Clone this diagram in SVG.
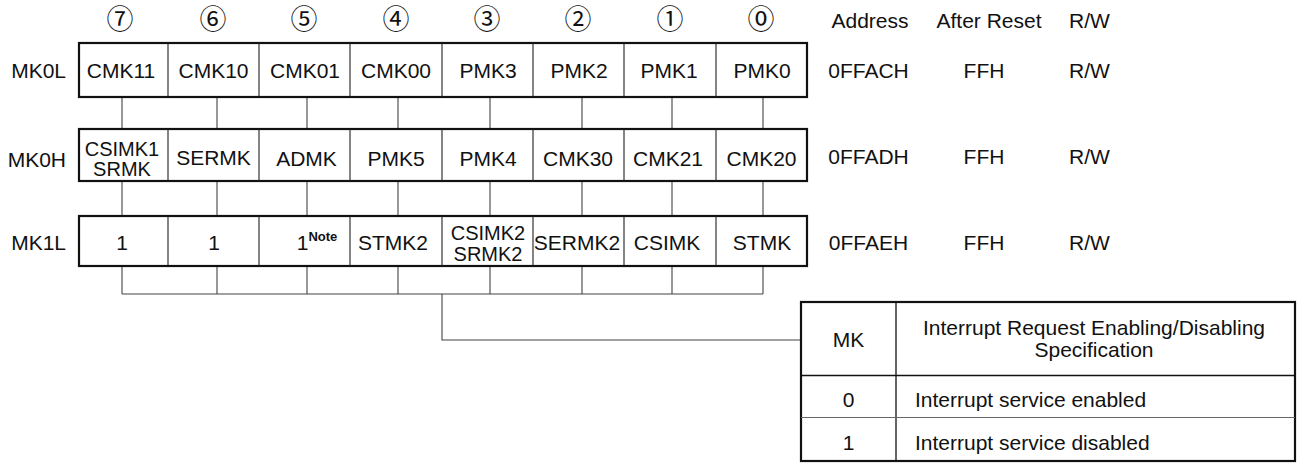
<svg xmlns="http://www.w3.org/2000/svg" width="1297" height="464" viewBox="0 0 1297 464">
<style>
text { font-family: "Liberation Sans", Arial, sans-serif; font-size: 21px; fill: #111; }
.c { text-anchor: middle; }
.e { text-anchor: end; }
.two { font-size: 20px; }
.box { fill: #fff; stroke: #111; stroke-width: 2.2; }
.div { stroke: #222; stroke-width: 1.1; }
.wire { fill: none; stroke: #444; stroke-width: 1.1; }
.circ { font-family: "Noto Sans CJK JP", "DejaVu Sans", sans-serif; font-size: 27px; text-anchor: middle; }
.note { font-size: 13px; font-weight: bold; }
.tb { fill: #fff; stroke: #111; stroke-width: 2.2; }
.tl { stroke: #111; stroke-width: 1.3; }
.tl2 { stroke: #666; stroke-width: 1.1; }
</style>
<rect width="1297" height="464" fill="#fff"/>

<g id="bit-numbers">
<text class="circ" x="120" y="28.6">⑦</text>
<text class="circ" x="213" y="28.6">⑥</text>
<text class="circ" x="304" y="28.6">⑤</text>
<text class="circ" x="396" y="28.6">④</text>
<text class="circ" x="487" y="28.6">③</text>
<text class="circ" x="578" y="28.6">②</text>
<text class="circ" x="670" y="28.6">①</text>
<text class="circ" x="761" y="28.6">⓪</text>
</g>

<g id="column-headers">
<text class="c" x="870" y="28">Address</text>
<text class="c" x="989" y="28">After Reset</text>
<text class="c" x="1089.5" y="28">R/W</text>
</g>

<g id="connectors">
<path class="wire" d="M122 97V129M217 97V129M307 97V129M398 97V129M490 97V129M582 97V129M672 97V129M763 97V129"/>
<path class="wire" d="M122 181V216M217 181V216M307 181V216M398 181V216M490 181V216M582 181V216M672 181V216M763 181V216"/>
<path class="wire" d="M122 266V294M217 266V294M307 266V294M398 266V294M490 266V294M582 266V294M672 266V294M763 266V294M122 294H763"/>
<path class="wire" d="M442 294V340H801"/>
</g>

<g id="MK0L">
<text class="e" x="66" y="77.5">MK0L</text>
<rect class="box" x="79" y="43" width="728" height="54"/>
<path class="div" d="M168 43V97M259 43V97M350 43V97M442 43V97M533 43V97M624 43V97M716 43V97"/>
<text class="c" x="121" y="77.5">CMK11</text>
<text class="c" x="213.5" y="77.5">CMK10</text>
<text class="c" x="305" y="77.5">CMK01</text>
<text class="c" x="396" y="77.5">CMK00</text>
<text class="c" x="488" y="77.5">PMK3</text>
<text class="c" x="579" y="77.5">PMK2</text>
<text class="c" x="669" y="77.5">PMK1</text>
<text class="c" x="762" y="77.5">PMK0</text>
<text class="c" x="868.5" y="78">0FFACH</text>
<text class="c" x="984" y="78">FFH</text>
<text class="c" x="1089.5" y="78">R/W</text>
</g>

<g id="MK0H">
<text class="e" x="66" y="167">MK0H</text>
<rect class="box" x="79" y="129" width="728" height="52"/>
<path class="div" d="M168 129V181M259 129V181M350 129V181M442 129V181M533 129V181M624 129V181M716 129V181"/>
<text class="c two" x="122" y="155.5">CSIMK1</text>
<text class="c two" x="122" y="176">SRMK</text>
<text class="c" x="213.5" y="165">SERMK</text>
<text class="c" x="306.5" y="166">ADMK</text>
<text class="c" x="396" y="166">PMK5</text>
<text class="c" x="488" y="166">PMK4</text>
<text class="c" x="578" y="166">CMK30</text>
<text class="c" x="668" y="166">CMK21</text>
<text class="c" x="761.5" y="166">CMK20</text>
<text class="c" x="868.5" y="163.5">0FFADH</text>
<text class="c" x="984" y="163.5">FFH</text>
<text class="c" x="1089.5" y="163.5">R/W</text>
</g>

<g id="MK1L">
<text class="e" x="66" y="250">MK1L</text>
<rect class="box" x="79" y="216" width="728" height="50"/>
<path class="div" d="M168 216V266M259 216V266M350 216V266M442 216V266M533 216V266M624 216V266M716 216V266"/>
<text class="c" x="122" y="250">1</text>
<text class="c" x="214" y="250">1</text>
<text x="296.7" y="250">1<tspan class="note" dy="-9">Note</tspan></text>
<text class="c" x="393" y="250">STMK2</text>
<text class="c two" x="488" y="240">CSIMK2</text>
<text class="c two" x="488" y="260.5">SRMK2</text>
<text class="c" x="577" y="250">SERMK2</text>
<text class="c" x="667" y="250">CSIMK</text>
<text class="c" x="762" y="250">STMK</text>
<text class="c" x="868.5" y="249.5">0FFAEH</text>
<text class="c" x="984" y="249.5">FFH</text>
<text class="c" x="1089.5" y="249.5">R/W</text>
</g>

<g id="mk-table">
<rect class="tb" x="801" y="302" width="494" height="159"/>
<path class="tl" d="M896 302V461M801 375.5H1295"/>
<path class="tl2" d="M801 417.5H1295"/>
<text class="c" x="848.5" y="346.5">MK</text>
<text class="c" x="1094" y="335">Interrupt Request Enabling/Disabling</text>
<text class="c" x="1094" y="357">Specification</text>
<text class="c" x="848.5" y="407">0</text>
<text x="915" y="407">Interrupt service enabled</text>
<text class="c" x="848.5" y="450">1</text>
<text x="915" y="450">Interrupt service disabled</text>
</g>
</svg>
